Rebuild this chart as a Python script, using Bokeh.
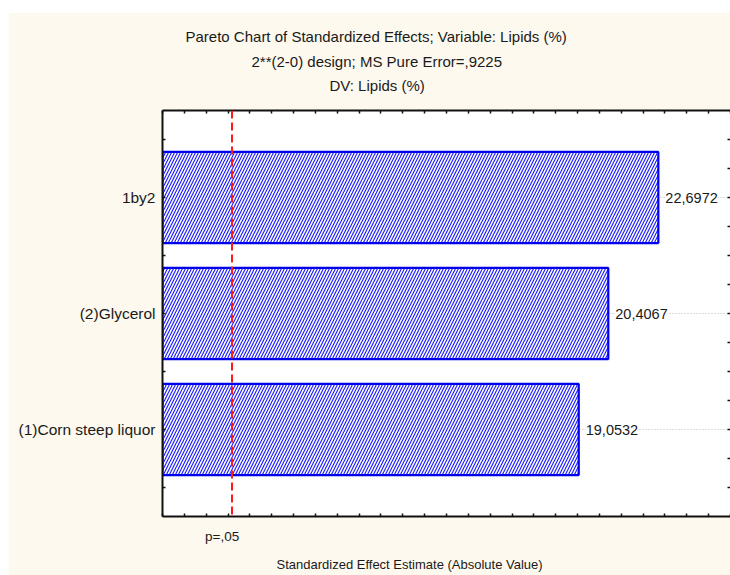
from bokeh.plotting import figure
from bokeh.models import (Range1d, LinearAxis, FixedTicker, ColumnDataSource, LabelSet,
                          Span, Title)
from bokeh.core.properties import value
from bokeh.embed import file_html
from bokeh.resources import INLINE

# ---- data ----
categories = ["(1)Corn steep liquor", "(2)Glycerol", "1by2"]
effects = [19.0532, 20.4067, 22.6972]
effect_labels = ["19,0532", "20,4067", "22,6972"]
p_crit = 3.182          # p=.05 critical value
p_label = "p=,05"
title_lines = ["Pareto Chart of Standardized Effects; Variable: Lipids (%)",
               "2**(2-0) design; MS Pure Error=,9225",
               "DV: Lipids (%)"]
x_title = "Standardized Effect Estimate (Absolute Value)"

FONT = "Liberation Sans"
TXT = "#1a1a1a"
CREAM = "#fdf9ee"
X_MAX = 26

ypos = [1.5 + 2 * i for i in range(len(categories))]
src = ColumnDataSource(dict(y=ypos, right=effects, lab=effect_labels))

W, H = 722, 563
FRAME_W = 568
p = figure(width=W, height=H, output_backend="svg", toolbar_location=None,
           x_range=Range1d(0, X_MAX), y_range=Range1d(0, 7),
           x_axis_location=None, y_axis_location=None)
p.styles = {"margin-left": "8px", "margin-top": "12px"}
p.min_border_left = 154
p.min_border_right = 0
p.min_border_top = 98
p.min_border_bottom = 59
p.border_fill_color = CREAM
p.background_fill_color = "white"
p.outline_line_color = None

# grid: dotted lines at category centres
p.xgrid.visible = False
p.ygrid.ticker = FixedTicker(ticks=ypos)
p.ygrid.grid_line_color = "#b8b8b8"
p.ygrid.grid_line_dash = "1 2"
p.ygrid.grid_line_width = 1

xt = list(range(0, X_MAX + 1))


def tick_axis(ax, tin):
    ax.major_tick_out = 0
    ax.minor_tick_out = 0
    ax.major_tick_in = tin
    ax.minor_tick_in = tin
    ax.axis_line_color = "#111111"
    ax.axis_line_width = 2
    ax.major_tick_line_color = "#111111"
    ax.minor_tick_line_color = "#111111"
    ax.major_tick_line_width = 1.5
    ax.minor_tick_line_width = 1.5
    ax.major_label_standoff = 0
    return ax


bax = LinearAxis(ticker=FixedTicker(ticks=[], minor_ticks=xt))
tick_axis(bax, 3)
p.add_layout(bax, "below")

tax = LinearAxis(ticker=FixedTicker(ticks=[], minor_ticks=xt))
tick_axis(tax, 3)
p.add_layout(tax, "above")

# left axis with category labels
between = [0.5, 2.5, 4.5, 6.5]
lax = LinearAxis(ticker=FixedTicker(ticks=ypos, minor_ticks=between))
tick_axis(lax, 3)
lax.major_label_overrides = {y: c for y, c in zip(ypos, categories)}
lax.major_label_text_font = FONT
lax.major_label_text_font_size = "15.5px"
lax.major_label_text_color = TXT
lax.major_label_standoff = 7
p.add_layout(lax, "left")

# right axis: ticks every half unit
rminor = [0.5 * i for i in range(1, 14)]
rax = LinearAxis(ticker=FixedTicker(ticks=[], minor_ticks=rminor))
tick_axis(rax, 3)
rax.axis_line_color = None
p.add_layout(rax, "right")

# bars
p.hbar(y="y", left=0, right="right", height=1.57, source=src,
       fill_color="white", hatch_pattern="/", hatch_color="#2020ff",
       hatch_scale=6, hatch_weight=1.2,
       line_color="#0000ee", line_width=2.2)

# value labels
p.add_layout(LabelSet(x="right", y="y", text="lab", source=src, x_offset=7,
                      text_baseline="middle", text_align="left",
                      text_font=value(FONT), text_font_size=value("14.5px"),
                      text_color=TXT, background_fill_color="white"))

# p=.05 line
p.add_layout(Span(location=p_crit, dimension="height", line_color="#ff1a1a",
                  line_width=2, line_dash="8 4"))


def mk_title(text, size, offset, standoff, valign):
    return Title(text=text, align="left", offset=offset, standoff=standoff,
                 vertical_align=valign, text_font=FONT, text_font_size=size,
                 text_font_style="normal", text_color=TXT)


# below the frame: p=,05 under the critical line, then the axis title
p_off = p_crit * FRAME_W / X_MAX - 27
p.add_layout(mk_title(p_label, "13.5px", p_off, 22, "middle"), "below")
p.add_layout(mk_title(x_title, "13px", 114, 2, "top"), "below")

# title block above the frame (innermost line first)
offsets = [23, 89, 167]
standoffs = [28, -18, 31]
valigns = ["middle", "bottom", "middle"]
for t, off, so, va in reversed(list(zip(title_lines, offsets, standoffs, valigns))):
    p.add_layout(mk_title(t, "15px", off, so, va), "above")

open("out.html", "w").write(file_html(p, INLINE))
